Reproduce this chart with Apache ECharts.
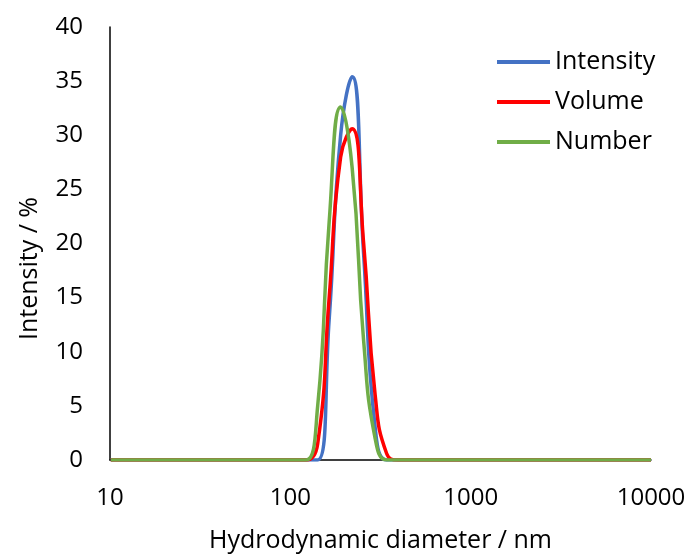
<!DOCTYPE html>
<html>
<head>
<meta charset="utf-8">
<script src="https://cdn.jsdelivr.net/npm/echarts@6/dist/echarts.min.js"></script>
<style>
html,body{margin:0;padding:0;background:#fff;}
#chart{width:691px;height:558px;}
</style>
</head>
<body>
<div id="chart"></div>
<script>
// Size bins (nm)
var sizes = [10.1, 11.7, 13.54, 15.69, 18.17, 21.04, 24.36, 28.21, 32.67, 37.84, 43.82, 50.75, 58.77, 68.06, 78.82, 91.28, 105.7, 122.4, 141.8, 164.2, 190.1, 220.2, 255.0, 295.3, 342.0, 396.1, 458.7, 531.2, 615.1, 712.4, 825.0, 955.4, 1106, 1281, 1484, 1718, 1990, 2305, 2669, 3091, 3580, 4145, 4801, 5560, 6439, 7456, 8635, 10000];
// Distribution values (%) per bin
var intensity = [0,0,0,0,0,0,0,0,0,0,0,0,0,0,0,0,0,0, 0, 13, 30, 35.4, 19, 3, 0, 0, 0,0,0,0,0,0,0,0,0,0,0,0,0,0,0,0,0,0,0,0,0,0];
var volume    = [0,0,0,0,0,0,0,0,0,0,0,0,0,0,0,0,0,0, 1.5, 15, 28, 30.6, 20, 6, 0.6, 0, 0,0,0,0,0,0,0,0,0,0,0,0,0,0,0,0,0,0,0,0,0,0];
var number    = [0,0,0,0,0,0,0,0,0,0,0,0,0,0,0,0,0,0, 5, 22, 32.6, 27, 11, 2, 0, 0, 0,0,0,0,0,0,0,0,0,0,0,0,0,0,0,0,0,0,0,0,0,0];
var seriesNames = ['Intensity', 'Volume', 'Number'];
var seriesColors = ['#4472C4', '#FF0000', '#70AD47'];

function pairs(vals){ return sizes.map(function(s,i){ return [s, vals[i]]; }); }
var allVals = [intensity, volume, number];

var font = 'Open Sans, Lato, sans-serif';
var chart = echarts.init(document.getElementById('chart'));
chart.setOption({
  animation: false,
  backgroundColor: '#fff',
  grid: {left: 110, right: 40, top: 27, bottom: 95},
  legend: {
    orient: 'vertical',
    left: 492, top: 42,
    icon: 'rect',
    itemWidth: 53, itemHeight: 4,
    itemGap: 10,
    data: seriesNames,
    textStyle: {fontFamily: font, fontSize: 25, color: '#000', lineHeight: 30}
  },
  xAxis: {
    type: 'log', logBase: 10, min: 10, max: 10000,
    axisLine: {show: true, onZero: false, lineStyle: {color: '#000', width: 1.5}},
    axisTick: {show: false},
    splitLine: {show: false},
    minorTick: {show: false},
    axisLabel: {fontFamily: font, fontSize: 24, color: '#000', margin: 26,
      formatter: function(v){ return String(Math.round(v)); }},
    name: 'Hydrodynamic diameter / nm',
    nameLocation: 'middle', nameGap: 68,
    nameTextStyle: {fontFamily: font, fontSize: 25, color: '#000'}
  },
  yAxis: {
    type: 'value', min: 0, max: 40, interval: 5,
    axisLine: {show: true, lineStyle: {color: '#000', width: 1.5}},
    axisTick: {show: false},
    splitLine: {show: false},
    axisLabel: {fontFamily: font, fontSize: 24, color: '#000', margin: 27},
    name: 'Intensity / %',
    nameLocation: 'middle', nameGap: 68, nameRotate: 90,
    nameTextStyle: {fontFamily: font, fontSize: 25, color: '#000', padding: [0, 50, 0, 0]}
  },
  series: seriesNames.map(function(n, k){
    return {
      name: n, type: 'line', data: pairs(allVals[k]),
      smooth: 0.5, showSymbol: false, symbol: 'none',
      color: seriesColors[k],
      lineStyle: {color: seriesColors[k], width: 3.5},
      z: 2 + k
    };
  })
});
</script>
</body>
</html>
